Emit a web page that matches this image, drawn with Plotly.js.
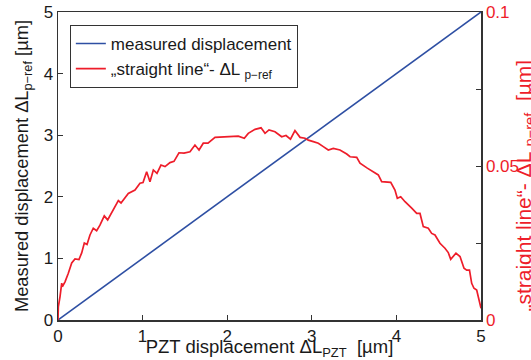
<!DOCTYPE html>
<html>
<head>
<meta charset="utf-8">
<script src="https://cdn.plot.ly/plotly-3.0.1.min.js"></script>
<style>html,body{margin:0;padding:0;background:#fff;}#chart{width:531px;height:360px;}</style>
</head>
<body>
<div id="chart"></div>
<script>
// Measured displacement (straight line) vs PZT displacement [µm]
const measuredX = [0, 5];
const measuredY = [0, 5];

// "straight line" - ΔL p-ref  [µm]  (right axis)
const deviationX = [0, 0.004, 0.024, 0.044, 0.051, 0.083, 0.122, 0.162, 0.201, 0.248, 0.280, 0.311, 0.343, 0.378, 0.417, 0.457, 0.496, 0.547, 0.587, 0.654, 0.713, 0.745, 0.792, 0.831, 0.910, 0.969, 1.005, 1.048, 1.087, 1.127, 1.170, 1.217, 1.265, 1.324, 1.371, 1.430, 1.489, 1.560, 1.619, 1.667, 1.717, 1.773, 1.856, 1.974, 2.131, 2.202, 2.249, 2.329, 2.400, 2.447, 2.494, 2.565, 2.644, 2.695, 2.748, 2.801, 2.861, 2.920, 2.959, 3.018, 3.077, 3.136, 3.195, 3.254, 3.333, 3.413, 3.452, 3.531, 3.570, 3.656, 3.727, 3.786, 3.826, 3.885, 3.933, 3.983, 4.011, 4.051, 4.102, 4.181, 4.240, 4.279, 4.318, 4.377, 4.417, 4.456, 4.515, 4.574, 4.613, 4.642, 4.704, 4.752, 4.799, 4.831, 4.864, 4.890, 4.917, 4.949, 4.976, 5.0];
const deviationY = [0, 0.0043, 0.0076, 0.0120, 0.0108, 0.0124, 0.0152, 0.0185, 0.0198, 0.0196, 0.0218, 0.0250, 0.0245, 0.0276, 0.0298, 0.0290, 0.0308, 0.0338, 0.0325, 0.0357, 0.0388, 0.0380, 0.0396, 0.0411, 0.0422, 0.0444, 0.0446, 0.0481, 0.0449, 0.0487, 0.0476, 0.0503, 0.0498, 0.0511, 0.0515, 0.0543, 0.0542, 0.0546, 0.0568, 0.0552, 0.0574, 0.0574, 0.0593, 0.0595, 0.0597, 0.0590, 0.0606, 0.0619, 0.0624, 0.0606, 0.0617, 0.0611, 0.0595, 0.0599, 0.0587, 0.0615, 0.0593, 0.0590, 0.0584, 0.0579, 0.0574, 0.0563, 0.0552, 0.0557, 0.0552, 0.0539, 0.0530, 0.0528, 0.0509, 0.0493, 0.0481, 0.0471, 0.0449, 0.0449, 0.0447, 0.0422, 0.0395, 0.0400, 0.0384, 0.0363, 0.0346, 0.0346, 0.0303, 0.0298, 0.0281, 0.0276, 0.0249, 0.0233, 0.0219, 0.0197, 0.0217, 0.0206, 0.0168, 0.0162, 0.0162, 0.0119, 0.0103, 0.0097, 0.0070, 0.0038];

// Tick labels
const xTickVals = [0, 1, 2, 3, 4, 5];
const xTickText = ['0', '1', '2', '3', '4', '5'];
const yTickVals = [0, 1, 2, 3, 4, 5];
const yTickText = ['0', '1', '2', '3', '4', '5'];
const y2TickVals = [0, 0.05, 0.1];
const y2TickText = ['0', '0.05', '0.1'];

const seriesNames = ['measured displacement', '\u201Estraight line\u201C- \u0394L <sub>p\u2212ref</sub>'];

const FONT = 'Liberation Sans, Arial, sans-serif';
const BLUE = '#2E4FA3';
const RED = '#EE1D2A';
const AX = '#333333';
const TXT = '#1a1a1a';

const traces = [
  {x: measuredX, y: measuredY, type: 'scatter', mode: 'lines', name: seriesNames[0],
   line: {color: BLUE, width: 1.6}, yaxis: 'y'},
  {x: deviationX, y: deviationY, type: 'scatter', mode: 'lines', name: seriesNames[1],
   line: {color: RED, width: 1.7}, yaxis: 'y2'}
];

const layout = {
  width: 531, height: 360,
  margin: {l: 58, r: 50, t: 12, b: 40, pad: 0},
  paper_bgcolor: '#ffffff', plot_bgcolor: '#ffffff',
  font: {family: FONT, size: 17, color: TXT},
  showlegend: true,
  legend: {x: 0.028, y: 0.958, xanchor: 'left', yanchor: 'top',
           bgcolor: '#ffffff', bordercolor: AX, borderwidth: 1,
           font: {family: FONT, size: 17, color: TXT},
           tracegroupgap: 0},
  xaxis: {
    range: [0, 5], tickvals: xTickVals, ticktext: xTickText,
    ticks: 'inside', ticklen: 5, tickcolor: AX, tickwidth: 1,
    showline: true, linecolor: AX, linewidth: 1.5, mirror: true,
    showgrid: false, zeroline: false,
    tickfont: {family: FONT, size: 17, color: TXT},
    title: {text: 'PZT displacement \u0394L<sub>PZT</sub>  [\u00B5m]', standoff: 5,
            font: {family: FONT, size: 18.5, color: TXT}}
  },
  yaxis: {
    range: [0, 5], tickvals: yTickVals, ticktext: yTickText,
    ticks: 'inside', ticklen: 5, tickcolor: AX, tickwidth: 1,
    showline: true, linecolor: AX, linewidth: 1.5,
    showgrid: false, zeroline: false,
    tickfont: {family: FONT, size: 17, color: TXT},
    title: {text: 'Measured displacement \u0394L<sub>p\u2212ref</sub> [\u00B5m]', standoff: 10,
            font: {family: FONT, size: 18.3, color: TXT}}
  },
  yaxis2: {
    range: [0, 0.1], tickvals: y2TickVals, ticktext: y2TickText,
    overlaying: 'y', side: 'right',
    ticks: 'inside', ticklen: 5, tickcolor: AX, tickwidth: 1,
    minor: {tickvals: [0.025, 0.075], ticks: 'inside', ticklen: 5, tickcolor: AX, tickwidth: 1},
    showline: true, linecolor: AX, linewidth: 1.5,
    showgrid: false, zeroline: false,
    tickfont: {family: FONT, size: 17, color: RED}
  },
  annotations: [{
    text: '\u201Estraight line\u201C- \u0394L <sub>p\u2212ref</sub>  [\u00B5m]',
    xref: 'paper', yref: 'paper', x: 1.103, y: 0.435,
    xanchor: 'center', yanchor: 'middle', textangle: -90, showarrow: false,
    font: {family: FONT, size: 21, color: RED}
  }]
};

Plotly.newPlot('chart', traces, layout, {displayModeBar: false, staticPlot: true});
</script>
</body>
</html>
